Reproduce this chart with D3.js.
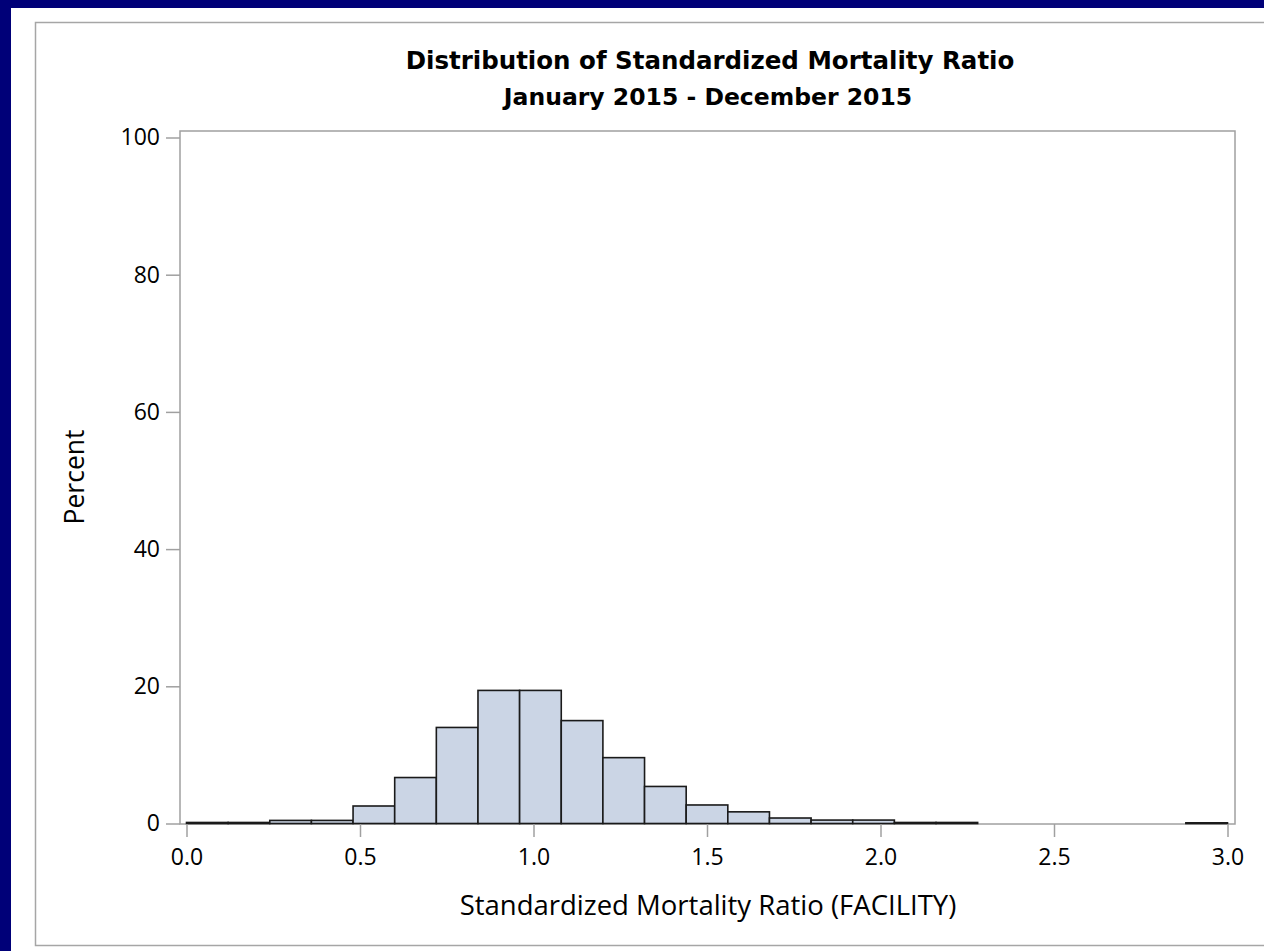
<!DOCTYPE html>
<html><head><meta charset="utf-8">
<script src="https://cdn.jsdelivr.net/npm/d3@7"></script>
<style>
html,body{margin:0;padding:0;background:#000078;}
svg{display:block;}
</style></head>
<body>
<svg id="chart" width="1264" height="951"></svg>
<script>
const binStart = [0.00,0.12,0.24,0.36,0.48,0.60,0.72,0.84,0.96,1.08,1.20,1.32,1.44,1.56,1.68,1.80,1.92,2.04,2.16,2.28,2.40,2.52,2.64,2.76,2.88];
const binEnd   = [0.12,0.24,0.36,0.48,0.60,0.72,0.84,0.96,1.08,1.20,1.32,1.44,1.56,1.68,1.80,1.92,2.04,2.16,2.28,2.40,2.52,2.64,2.76,2.88,3.00];
const percent  = [0.15,0.15,0.45,0.45,2.55,6.7,14.0,19.4,19.4,15.0,9.6,5.4,2.7,1.7,0.8,0.5,0.5,0.15,0.15,0,0,0,0,0,0.1];
const xTicks = [0.0,0.5,1.0,1.5,2.0,2.5,3.0];
const yTicks = [0,20,40,60,80,100];
const title = "Distribution of Standardized Mortality Ratio";
const subtitle = "January 2015 - December 2015";
const xLabel = "Standardized Mortality Ratio (FACILITY)";
const yLabel = "Percent";

const svg = d3.select("#chart");
svg.append("rect").attr("x",11).attr("y",8).attr("width",1253).attr("height",943).attr("fill","#fff");
svg.append("rect").attr("x",35.5).attr("y",22.5).attr("width",1240).attr("height",923).attr("fill","none").attr("stroke","#a6a6a6").attr("stroke-width",1.5);

const frame = {l:180, r:1235, t:131, b:824};
const x = d3.scaleLinear().domain([0,3]).range([186.5,1227.5]);
const y = d3.scaleLinear().domain([0,100]).range([823.5,137.5]);

const data = binStart.map((s,i)=>({s, e:binEnd[i], p:percent[i]}));

svg.append("rect").attr("x",frame.l).attr("y",frame.t).attr("width",frame.r-frame.l).attr("height",frame.b-frame.t)
  .attr("fill","none").attr("stroke","#a0a0a0").attr("stroke-width",1.5);

svg.append("g").selectAll("rect").data(data.filter(d=>d.p>0)).join("rect")
  .attr("x",d=>x(d.s)).attr("width",d=>x(d.e)-x(d.s))
  .attr("y",d=>y(d.p)).attr("height",d=>y(0)-y(d.p))
  .attr("fill","#cbd5e5").attr("stroke","#1a1a1a").attr("stroke-width",1.6);

const font = "'Open Sans', sans-serif";
const tfont = "'DejaVu Sans', sans-serif";

const xa = svg.append("g").attr("transform",`translate(0,${frame.b})`)
  .call(d3.axisBottom(x).tickValues(xTicks).tickFormat(d3.format(".1f")).tickSize(13));
xa.select(".domain").remove();
xa.selectAll("line").attr("stroke","#a0a0a0").attr("stroke-width",1.5);
xa.selectAll("text").attr("y",25).attr("dy","0.71em").attr("font-family",font).attr("font-size",23).attr("fill","#000");

const ya = svg.append("g").attr("transform",`translate(${frame.l},0)`)
  .call(d3.axisLeft(y).tickValues(yTicks).tickSize(14).tickPadding(6));
ya.select(".domain").remove();
ya.selectAll("line").attr("stroke","#a0a0a0").attr("stroke-width",1.5);
ya.selectAll("text").attr("font-family",font).attr("font-size",23).attr("fill","#000");

svg.append("text").attr("x",710).attr("y",69).attr("text-anchor","middle")
  .attr("font-family",tfont).attr("font-weight","bold").attr("font-size",24.5).text(title);
svg.append("text").attr("x",708).attr("y",105).attr("text-anchor","middle")
  .attr("font-family",tfont).attr("font-weight","bold").attr("font-size",23.5).text(subtitle);
svg.append("text").attr("x",708).attr("y",915).attr("text-anchor","middle")
  .attr("font-family",font).attr("font-size",27.5).text(xLabel);
svg.append("text").attr("transform","translate(84,477) rotate(-90)").attr("text-anchor","middle")
  .attr("font-family",font).attr("font-size",26.5).text(yLabel);
</script>
</body></html>
